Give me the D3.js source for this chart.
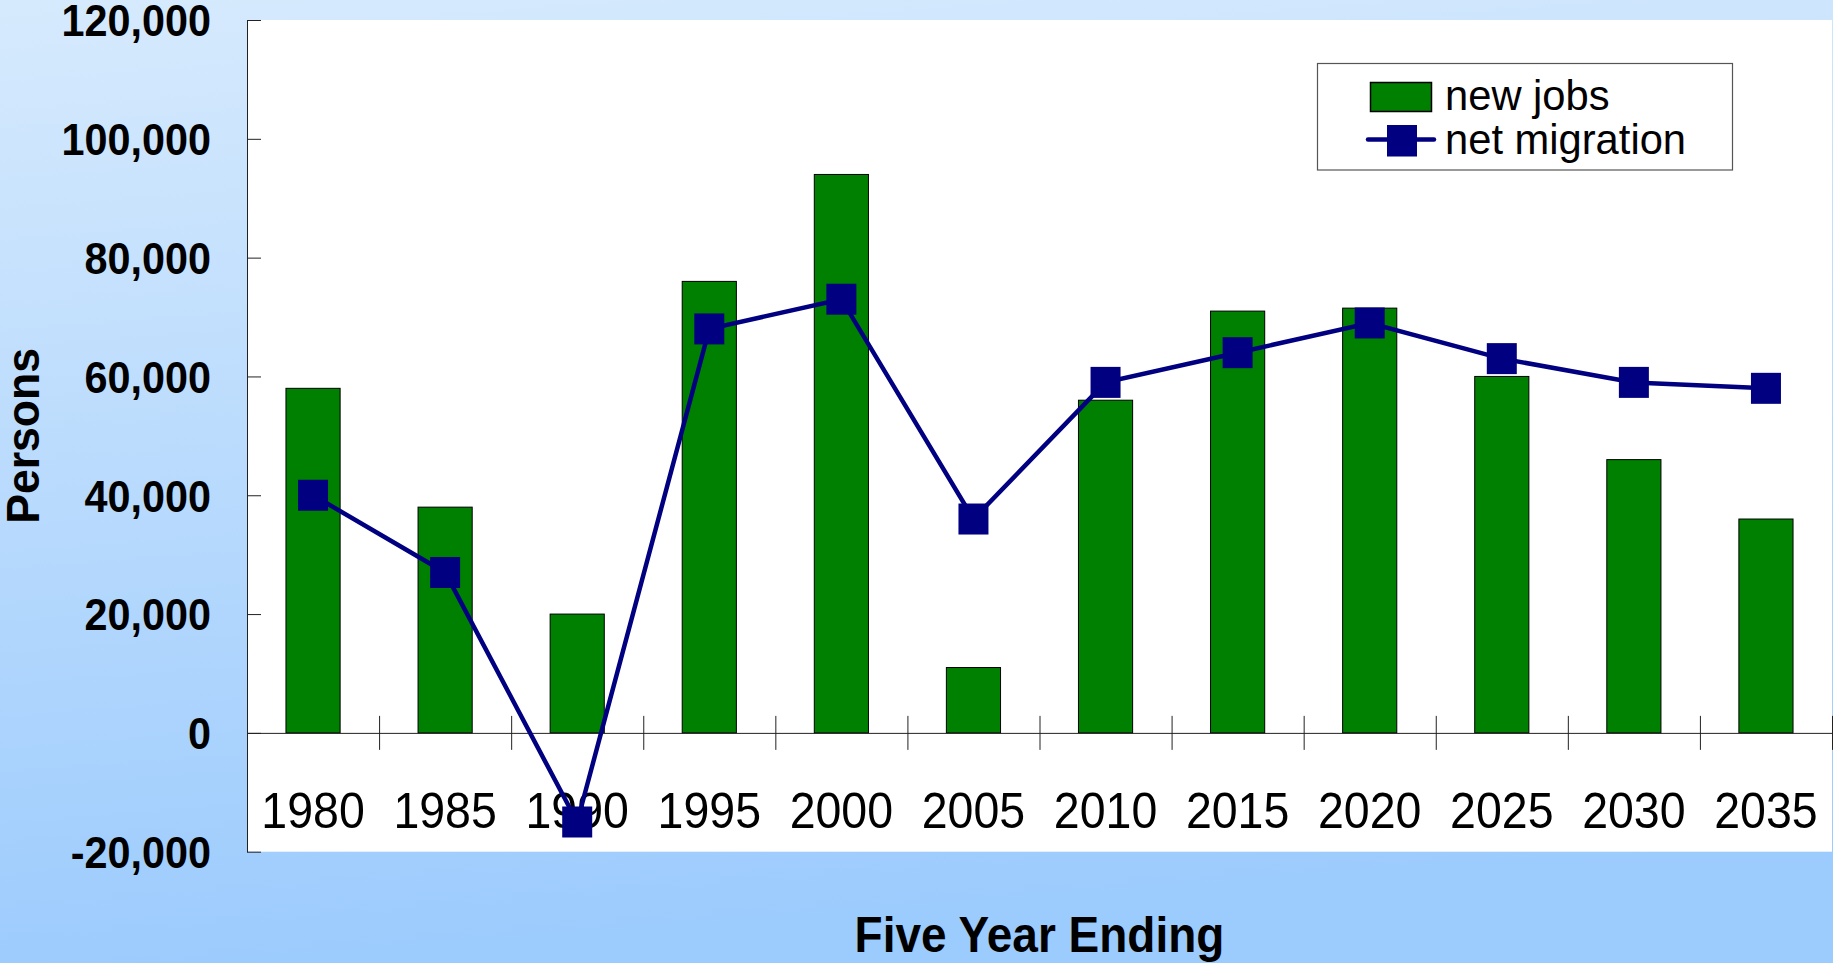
<!DOCTYPE html>
<html>
<head>
<meta charset="utf-8">
<script src="https://cdn.jsdelivr.net/npm/d3@7"></script>
<style>
body { margin: 0; overflow: hidden; }
text { font-family: "Liberation Sans", Arial, Helvetica, sans-serif; fill: #000; }
</style>
</head>
<body>
<div id="chart"></div>
<script>
var years = ['1980','1985','1990','1995','2000','2005','2010','2015','2020','2025','2030','2035'];
var newJobs = [58000, 38000, 20000, 76000, 94000, 11000, 56000, 71000, 71500, 60000, 46000, 36000];
var netMigration = [40000, 27000, -15000, 68000, 73000, 36000, 59000, 64000, 69000, 63000, 59000, 58000];
var yTicks = [-20000, 0, 20000, 40000, 60000, 80000, 100000, 120000];
var seriesNames = ['new jobs', 'net migration'];

var W = 1833, H = 963;
var plotLeft = 247, plotRight = 1832, plotTop = 20, plotBottom = 851.7;

var svg = d3.select('#chart').append('svg')
    .attr('width', W)
    .attr('height', H);

var grad = svg.append('defs').append('linearGradient')
    .attr('id', 'bg')
    .attr('x1', 0).attr('y1', 0).attr('x2', 0.15).attr('y2', 1);
grad.append('stop').attr('offset', 0).attr('stop-color', '#d6eafd');
grad.append('stop').attr('offset', 1).attr('stop-color', '#9ccbfd');

svg.append('rect').attr('width', W).attr('height', H).attr('fill', 'url(#bg)');
svg.append('rect')
    .attr('x', plotLeft).attr('y', plotTop)
    .attr('width', plotRight - plotLeft).attr('height', plotBottom - plotTop)
    .attr('fill', '#fff');

var x = d3.scaleBand()
    .domain(years)
    .range([plotLeft, plotRight])
    .paddingInner(0.59)
    .paddingOuter(0.295);

var y = d3.scaleLinear()
    .domain([-20000, 120000])
    .range([plotBottom, plotTop]);

var fmt = d3.formatLocale({decimal: '.', thousands: ',', grouping: [3], currency: ['$', ''], minus: '-'}).format(',');

// bars
svg.selectAll('rect.bar')
    .data(newJobs)
    .enter().append('rect')
    .attr('class', 'bar')
    .attr('x', function(d, i){ return x(years[i]); })
    .attr('width', x.bandwidth())
    .attr('y', function(d){ return y(Math.max(0, d)); })
    .attr('height', function(d){ return Math.abs(y(d) - y(0)); })
    .attr('fill', '#008000')
    .attr('stroke', '#000')
    .attr('stroke-width', 1);

// y axis
var yAxis = svg.append('g')
    .attr('transform', 'translate(' + plotLeft + ',0)')
    .call(d3.axisLeft(y).tickValues(yTicks).tickFormat(fmt).tickSize(15).tickSizeOuter(0));
yAxis.select('.domain').attr('stroke', '#222');
yAxis.selectAll('.tick line').attr('x2', 14).attr('stroke', '#222');
yAxis.selectAll('.tick text')
    .attr('x', 0)
    .attr('dy', '0.36em')
    .attr('transform', 'translate(-36,0) scale(0.94,1)')
    .style('font-size', '44px')
    .style('font-weight', 'bold')
    .attr('fill', '#000');

// x axis at zero: boundary ticks
var bounds = d3.scaleLinear().domain([0, years.length]).range([plotLeft, plotRight]);
var xTickAxis = svg.append('g')
    .attr('transform', 'translate(0,' + y(0) + ')')
    .call(d3.axisBottom(bounds).tickValues(d3.range(years.length + 1)).tickFormat('').tickSize(17).tickSizeOuter(0));
xTickAxis.select('.domain').attr('stroke', '#222');
xTickAxis.selectAll('.tick line').attr('y1', -17).attr('stroke', '#222');

// x labels
var xAxis = svg.append('g')
    .attr('transform', 'translate(0,' + y(0) + ')')
    .call(d3.axisBottom(x).tickSize(0));
xAxis.select('.domain').remove();
xAxis.selectAll('.tick text')
    .attr('y', 0)
    .attr('dy', 0)
    .attr('transform', 'translate(0,95) scale(0.93,1)')
    .style('font-size', '50px')
    .attr('fill', '#000');

// line
var cx = function(i){ return x(years[i]) + x.bandwidth() / 2; };
var line = d3.line()
    .x(function(d, i){ return cx(i); })
    .y(function(d){ return y(d); });

svg.append('path')
    .datum(netMigration)
    .attr('d', line)
    .attr('fill', 'none')
    .attr('stroke', '#000080')
    .attr('stroke-width', 4.5);

svg.selectAll('rect.marker')
    .data(netMigration)
    .enter().append('rect')
    .attr('class', 'marker')
    .attr('x', function(d, i){ return cx(i) - 15; })
    .attr('y', function(d){ return y(d) - 15.5; })
    .attr('width', 30)
    .attr('height', 31)
    .attr('fill', '#000080');

// axis titles
svg.append('text')
    .attr('transform', 'translate(' + ((plotLeft + plotRight) / 2) + ',951.7) scale(0.92,1)')
    .attr('text-anchor', 'middle')
    .style('font-size', '50px')
    .style('font-weight', 'bold')
    .text('Five Year Ending');

svg.append('text')
    .attr('transform', 'translate(39,' + ((plotTop + plotBottom) / 2) + ') rotate(-90) scale(0.97,1)')
    .attr('text-anchor', 'middle')
    .style('font-size', '46px')
    .style('font-weight', 'bold')
    .text('Persons');

// legend
var legend = svg.append('g');
legend.append('rect')
    .attr('x', 1317.5).attr('y', 63.5)
    .attr('width', 415).attr('height', 106.5)
    .attr('fill', '#fff')
    .attr('stroke', '#555')
    .attr('stroke-width', 1.2);
legend.append('rect')
    .attr('x', 1370.5).attr('y', 82.5)
    .attr('width', 61).attr('height', 29)
    .attr('fill', '#008000')
    .attr('stroke', '#000')
    .attr('stroke-width', 1.5);
legend.append('line')
    .attr('x1', 1368).attr('x2', 1434)
    .attr('y1', 139.5).attr('y2', 139.5)
    .attr('stroke', '#000080')
    .attr('stroke-width', 4.5)
    .attr('stroke-linecap', 'round');
legend.append('rect')
    .attr('x', 1387).attr('y', 125)
    .attr('width', 30).attr('height', 31.5)
    .attr('fill', '#000080');
legend.selectAll('text')
    .data(seriesNames)
    .enter().append('text')
    .attr('transform', function(d, i){ return 'translate(1445,' + (109.5 + i * 44) + ') scale(0.97,1)'; })
    .style('font-size', '43px')
    .text(function(d){ return d; });
</script>
</body>
</html>
